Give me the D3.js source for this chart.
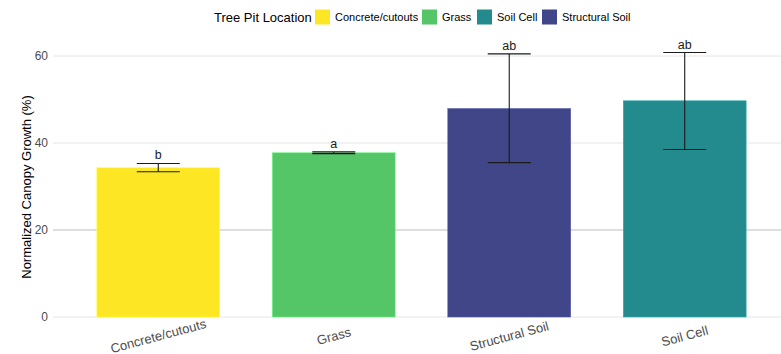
<!DOCTYPE html>
<html>
<head>
<meta charset="utf-8">
<script src="https://cdn.jsdelivr.net/npm/d3@7"></script>
<style>
  body { margin: 0; background: #fff; }
  svg { font-family: "Liberation Sans", Arial, sans-serif; }
</style>
</head>
<body>
<svg id="chart" width="781" height="354"></svg>
<script>
// data
let categories = ["Concrete/cutouts", "Grass", "Structural Soil", "Soil Cell"];
let means = [34.3, 37.75, 47.9, 49.7];
let errLow = [33.4, 37.55, 35.5, 38.5];
let errHigh = [35.3, 37.95, 60.5, 60.8];
let letters = ["b", "a", "ab", "ab"];
let legendOrder = ["Concrete/cutouts", "Grass", "Soil Cell", "Structural Soil"];
let yTicks = [0, 20, 40, 60];

let colors = {
  "Concrete/cutouts": "#FDE725",
  "Grass": "#55C667",
  "Soil Cell": "#238A8D",
  "Structural Soil": "#404688"
};

let svg = d3.select("#chart");

let margin = {left: 53, right: -9, top: 36, bottom: 37};
let width = 781 - margin.left - margin.right;
let height = 354 - margin.top - margin.bottom;

let g = svg.append("g").attr("transform", `translate(${margin.left},${margin.top})`);

// x and y scales
let xScale = d3.scaleBand().domain(categories).range([0, width]).paddingInner(0.3).paddingOuter(0.25);
let yScale = d3.scaleLinear().domain([0, 60]).range([height, height - 261]);

// gridlines
g.selectAll(".grid")
  .data(yTicks)
  .enter().append("line")
  .attr("x1", 0)
  .attr("x2", 781 - margin.left)
  .attr("y1", d => yScale(d))
  .attr("y2", d => yScale(d))
  .attr("stroke", d => d === 20 ? "#bdbdbd" : "#e6e6e6")
  .attr("stroke-width", 1);

// y tick labels
g.selectAll(".ytick")
  .data(yTicks)
  .enter().append("text")
  .attr("x", -5)
  .attr("y", d => yScale(d))
  .attr("dy", "0.35em")
  .attr("text-anchor", "end")
  .attr("font-size", 12)
  .attr("fill", "#4d4d4d")
  .text(d => d);

// bars
g.selectAll(".bar")
  .data(categories)
  .enter().append("rect")
  .attr("x", d => xScale(d))
  .attr("width", xScale.bandwidth())
  .attr("y", (d, i) => yScale(means[i]))
  .attr("height", (d, i) => yScale(0) - yScale(means[i]))
  .attr("fill", d => colors[d])
  .attr("stroke", d => d3.color(colors[d]).brighter(0.6))
  .attr("stroke-width", 0.6);

// error bars
let capHalf = 21.5;
let eb = g.selectAll(".err")
  .data(categories)
  .enter().append("g")
  .attr("transform", d => `translate(${xScale(d) + xScale.bandwidth() / 2},0)`);

eb.append("line")
  .attr("y1", (d, i) => yScale(errLow[i]))
  .attr("y2", (d, i) => yScale(errHigh[i]))
  .attr("stroke", "#1a1a1a").attr("stroke-width", 1.1);
eb.append("line")
  .attr("x1", -capHalf).attr("x2", capHalf)
  .attr("y1", (d, i) => yScale(errLow[i]))
  .attr("y2", (d, i) => yScale(errLow[i]))
  .attr("stroke", "#1a1a1a").attr("stroke-width", 1.1);
eb.append("line")
  .attr("x1", -capHalf).attr("x2", capHalf)
  .attr("y1", (d, i) => yScale(errHigh[i]))
  .attr("y2", (d, i) => yScale(errHigh[i]))
  .attr("stroke", "#1a1a1a").attr("stroke-width", 1.1);

// significance letters
eb.append("text")
  .attr("y", (d, i) => yScale(errHigh[i]) - 4)
  .attr("text-anchor", "middle")
  .attr("font-size", 12.5)
  .attr("fill", "#1a1a1a")
  .text((d, i) => letters[i]);

// x tick labels, rotated
g.selectAll(".xtick")
  .data(categories)
  .enter().append("text")
  .attr("transform", d => `translate(${xScale(d) + xScale.bandwidth() / 2},${height + 19}) rotate(-15)`)
  .attr("text-anchor", "middle")
  .attr("dy", "0.35em")
  .attr("font-size", 13)
  .attr("fill", "#4d4d4d")
  .text(d => d);

// y axis title
svg.append("text")
  .attr("transform", `translate(31,${margin.top + height - 130}) rotate(-90)`)
  .attr("text-anchor", "middle")
  .attr("font-size", 13)
  .attr("fill", "#000")
  .text("Normalized Canopy Growth (%)");

// legend
let legend = svg.append("g").attr("transform", "translate(214,17)");
legend.append("text")
  .attr("x", 0).attr("y", 0).attr("dy", "0.35em")
  .attr("font-size", 13)
  .attr("fill", "#000")
  .text("Tree Pit Location");

let legendX = [101, 208, 263, 328];
let items = legend.selectAll(".item")
  .data(legendOrder)
  .enter().append("g")
  .attr("transform", (d, i) => `translate(${legendX[i]},0)`);
items.append("rect")
  .attr("x", 0).attr("y", -7.5)
  .attr("width", 15).attr("height", 15)
  .attr("fill", d => colors[d]);
items.append("text")
  .attr("x", 20).attr("y", 0).attr("dy", "0.35em")
  .attr("font-size", 11)
  .attr("fill", "#000")
  .text(d => d);
</script>
</body>
</html>
